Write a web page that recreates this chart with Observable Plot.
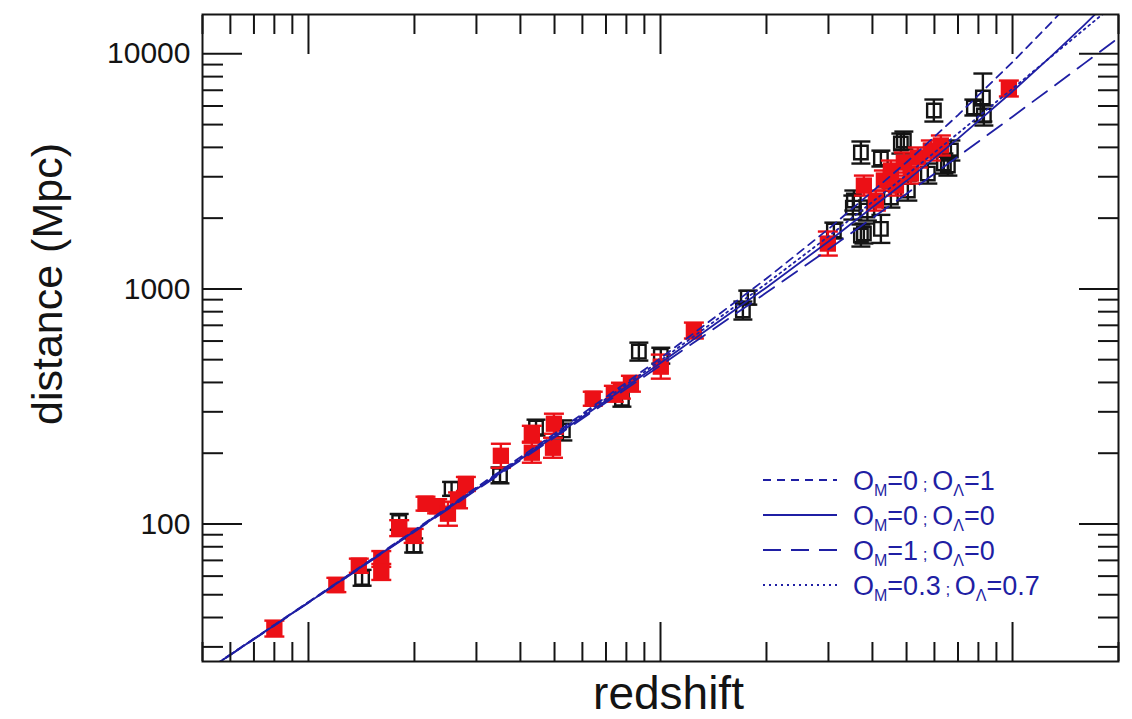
<!DOCTYPE html>
<html><head><meta charset="utf-8">
<script src="https://cdn.jsdelivr.net/npm/d3@7"></script>
<script src="https://cdn.jsdelivr.net/npm/@observablehq/plot@0.6"></script>
<style>
body{margin:0;background:#fff;}
#wrap{position:relative;width:1132px;height:719px;overflow:hidden;background:#fff;}
#wrap svg{position:absolute;left:0;top:0;}
</style></head><body><div id="wrap"></div>
<script>
// ---- model curves (redshift, luminosity distance in Mpc) ----
const modelZ     = [0.005, 0.01, 0.02, 0.05, 0.1, 0.2, 0.3, 0.5, 0.7, 1.0, 1.3, 1.6, 2.0];
const dM0L1      = [23.18, 46.58, 94.08, 242.1, 507.3, 1106.9, 1798.7, 3459, 5488, 9224, 13790, 19186, 27672];
const dM0L0      = [23.12, 46.35, 93.16, 236.4, 484.3, 1014.6, 1591.1, 2882.5, 4358.3, 6918, 9892.7, 13282.6, 18448];
const dM1L0      = [23.09, 46.23, 92.70, 233.4, 472.2, 964.4, 1474.2, 2538.9, 3654.2, 5403.3, 7226.3, 9109.1, 11695.6];
const dM03L07    = [23.15, 46.48, 93.67, 239.6, 495.6, 1054.9, 1671.6, 3050, 4586, 7115, 9843, 12727, 16734];
const seriesOM   = ["0", "0", "1", "0.3"];
const seriesOL   = ["1", "0", "0", "0.7"];

// ---- red filled squares ----
const redZ  = [0.0080,0.0120,0.0139,0.0161,0.0161,0.0181,0.0199,0.0215,0.0232,0.0249,0.0266,0.0280,0.0352,0.0431,0.0431,0.0498,0.0495,0.0642,0.0737,0.0772,0.0824,0.1002,0.1244,0.2988,0.3782,0.409,0.4311,0.4513,0.4664,0.4912,0.5143,0.5384,0.5861,0.6258,0.9763];
const redD  = [36,55,66.5,71,62.5,96,89,122,119,110.6,126,148,195,201,242,267,211,341,358,369,395,467,665,1559,2751,2376,2891,3188,2751,3447,3095,3622,3879,4074,7119];
const redLo = [33.2,51.3,62,65.7,57.8,88.8,83.1,114,111,98.3,116.6,138.2,173.3,182.2,223.9,242,191.3,318.4,331.2,341.4,365.4,415.1,615.2,1386,2494,2154,2621,2890,2494,3125,2806,3284,3517,3694,6586];
const redHi = [38.8,59,71.2,76.7,67.6,103.8,95.3,130.6,127.5,124.4,136.2,158.5,219.4,221.7,261.6,294.5,232.7,365.2,387,398.9,427,525.4,718.9,1754,3034,2621,3189,3516,3034,3802,3414,3995,4279,4494,7696];

// ---- black open squares ----
const blackZ  = [0.0142,0.0181,0.0199,0.0255,0.0350,0.0443,0.0528,0.0777,0.0868,0.1002,0.1714,0.1770,0.3108,0.3709,0.4227,0.3709,0.3519,0.3870,0.4912,0.5042,0.4513,0.5746,0.6551,0.5978,0.4227,0.6682,0.8237,0.7766,0.8291,0.4817,0.6383,0.3542,0.3782];
const blackD  = [59,102,81,141,161,257,250,341,541,520,809,918,1771,1687,1800,3803,2218,2154,4277,2620,2447,3095,3347,5738,3585,3879,6518,5909,5465,4153,3414,2376,1720];
const blackLo = [54.6,94.4,75.6,131.7,148.9,237.7,226.6,315.5,495.4,481,740.8,857,1638,1514,1569,3414,1972,1953,3917,2375,2218,2806,3034,5151,3316,3517,5153,5466,4955,3765,3095,2154,1560];
const blackHi = [63.8,110.3,86.8,151,174,277.8,275.8,368.6,590.8,562,883.4,983,1914,1879,2065,4237,2495,2376,4670,2890,2699,3414,3692,6392,3875,4279,8245,6388,6028,4581,3766,2621,1897];

// ---- ticks ----
const xMajor = [0.01, 0.1, 1];
const xMinor = [0.005,0.006,0.007,0.008,0.009,0.02,0.03,0.04,0.05,0.06,0.07,0.08,0.09,0.2,0.3,0.4,0.5,0.6,0.7,0.8,0.9,2];
const yMajor = [100, 1000, 10000];
const yMinor = [30,40,50,60,70,80,90,200,300,400,500,600,700,800,900,2000,3000,4000,5000,6000,7000,8000,9000];

const BLUE = "#1f1fa4", RED = "#ec1016", INK = "#141414";

const red = redZ.map((z, i) => ({z, d: redD[i], lo: redLo[i], hi: redHi[i]}));
const black = blackZ.map((z, i) => ({z, d: blackD[i], lo: blackLo[i], hi: blackHi[i]}));
const series = [
  {d: dM0L1, dash: "8,6"},
  {d: dM0L0, dash: null},
  {d: dM1L0, dash: "18,10"},
  {d: dM03L07, dash: "2,4"}
];
const cap = {draw(ctx, size) { const w = Math.sqrt(size / Math.PI); ctx.moveTo(-w, 0); ctx.lineTo(w, 0); }};

const tickAxes = [];
for (const anchor of ["bottom", "top"]) {
  tickAxes.push(Plot.axisX({anchor, ticks: xMajor, tickSize: -39, tickFormat: () => "", label: null, strokeWidth: 2}));
  tickAxes.push(Plot.axisX({anchor, ticks: xMinor, tickSize: -19, tickFormat: () => "", label: null, strokeWidth: 2}));
}
for (const anchor of ["left", "right"]) {
  tickAxes.push(Plot.axisY({anchor, ticks: yMajor, tickSize: -40, tickFormat: () => "", label: null, strokeWidth: 2}));
  tickAxes.push(Plot.axisY({anchor, ticks: yMinor, tickSize: -21, tickFormat: () => "", label: null, strokeWidth: 2}));
}

const errMarks = (data, color, capR) => [
  Plot.ruleX(data, {x: "z", y1: "lo", y2: "hi", stroke: color, strokeWidth: 2.4}),
  Plot.dot(data, {x: "z", y: "lo", symbol: cap, r: capR, stroke: color, strokeWidth: 2.4, fill: "none"}),
  Plot.dot(data, {x: "z", y: "hi", symbol: cap, r: capR, stroke: color, strokeWidth: 2.4, fill: "none"})
];

const chart = Plot.plot({
  width: 1132, height: 719,
  marginLeft: 202, marginRight: 14, marginTop: 14, marginBottom: 58,
  style: {fontFamily: "'Liberation Sans', Arial, sans-serif", color: INK, background: "transparent"},
  x: {type: "log", domain: [0.005, 2]},
  y: {type: "log", domain: [26, 14700]},
  marks: [
    ...errMarks(black, INK, 9.5),
    Plot.dot(black, {x: "z", y: "d", symbol: "square", r: 7.6, stroke: INK, strokeWidth: 2.4, fill: "none"}),
    ...errMarks(red, RED, 10),
    Plot.dot(red, {x: "z", y: "d", symbol: "square", r: 9.2, fill: RED, stroke: "none"}),
    ...series.map(s => Plot.line(modelZ.map((z, j) => ({z, d: s.d[j]})), {x: "z", y: "d", stroke: BLUE, strokeWidth: 1.8, strokeDasharray: s.dash, clip: true})),
    ...tickAxes,
    Plot.axisY({anchor: "left", ticks: yMajor, tickSize: 0, tickPadding: 12, tickFormat: d3.format("d"), fontSize: 30, dy: 0, label: null}),
    Plot.frame({stroke: INK, strokeWidth: 2}),
    Plot.text(["distance (Mpc)"], {frameAnchor: "left", textAnchor: "middle", rotate: -90, dx: -154, dy: -54, fontSize: 43, fill: INK}),
    Plot.text(["redshift"], {frameAnchor: "bottom", lineAnchor: "bottom", textAnchor: "middle", dx: 8, dy: 47, fontSize: 46, fill: INK})
  ]
});
document.getElementById("wrap").appendChild(chart);

// ---- legend (inside the plot, lower right) ----
const leg = d3.select("#wrap").append("svg").attr("width", 1132).attr("height", 719)
  .style("font-family", "'Liberation Sans', Arial, sans-serif");
const rowY = [480, 515, 550, 585];
series.forEach((s, i) => {
  const y = rowY[i];
  leg.append("line").attr("x1", 763).attr("x2", 837).attr("y1", y).attr("y2", y)
    .attr("stroke", BLUE).attr("stroke-width", 1.8).attr("stroke-dasharray", s.dash);
  const t = leg.append("text").attr("x", 853).attr("y", y + 10).attr("fill", BLUE).attr("font-size", 27);
  t.append("tspan").text("O");
  t.append("tspan").attr("font-size", 16).attr("dy", 6).text("M");
  t.append("tspan").attr("dy", -6).text("=" + seriesOM[i]);
  t.append("tspan").attr("font-size", 17).text(" ; ");
  t.append("tspan").text("O");
  t.append("tspan").attr("font-size", 16).attr("dy", 6).text("Λ");
  t.append("tspan").attr("dy", -6).text("=" + seriesOL[i]);
});
</script></body></html>
